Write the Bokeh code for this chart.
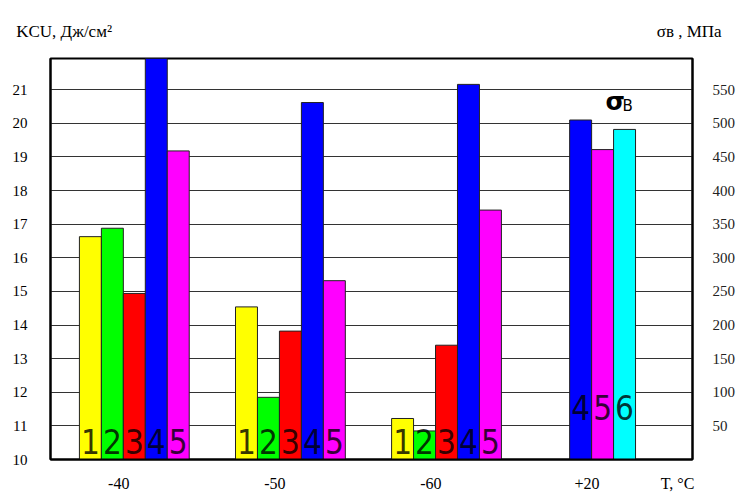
from bokeh.plotting import figure
from bokeh.models import Range1d, LinearAxis, FixedTicker, Label
from bokeh.core.properties import value
from bokeh.embed import file_html
from bokeh.resources import INLINE

# ---- data ----
categories = ["-40", "-50", "-60", "+20"]
cat_pos = [1, 2, 3, 4]
kcu_1 = [16.63, 14.54, 11.22]
kcu_2 = [16.88, 11.85, 10.85]
kcu_3 = [14.94, 13.82, 13.40]
kcu_4 = [22.4, 20.62, 21.16]
kcu_5 = [19.18, 15.32, 17.42]
sigma_20 = [505, 461, 491]          # MPa at +20 C, bars 4,5,6
sigma_labels = ["4", "5", "6"]
left_ticks = [10, 11, 12, 13, 14, 15, 16, 17, 18, 19, 20, 21]
right_ticks = [50, 100, 150, 200, 250, 300, 350, 400, 450, 500, 550]
x_title = "T, °C"
left_title = "KCU, Дж/см²"
right_title = "σв , МПа"

colors = ["#FFFF00", "#00FF00", "#FF0000", "#0000FF", "#FF00FF", "#00FFFF"]

Y0, Y1 = 10, 21.93
p = figure(width=738, height=502, output_backend="svg", toolbar_location=None,
           x_range=Range1d(0.463, 4.576), y_range=Range1d(Y0, Y1),
           min_border_left=50, min_border_right=45, min_border_top=58, min_border_bottom=43)
p.extra_y_ranges = {"sigma": Range1d((Y0 - 10) * 50, (Y1 - 10) * 50)}

digit_font = value("DejaVu Sans Condensed, Roboto")
bw = 0.1407
series = [kcu_1, kcu_2, kcu_3, kcu_4, kcu_5]
for i, vals in enumerate(series):
    xs = [cat_pos[j] + (i - 2) * bw for j in range(len(vals))]
    p.vbar(x=xs, top=vals, bottom=Y0, width=bw, fill_color=colors[i],
           line_color="#222222", line_width=1)
    p.text(x=xs, y=[Y0] * len(vals), text=[str(i + 1)] * len(vals),
           text_font=digit_font, text_font_size="33px",
           text_color="black", text_alpha=0.8, text_align="center",
           text_baseline="bottom", y_offset=-6)

xs20 = [cat_pos[3] + (k - 1) * bw for k in range(3)]
p.vbar(x=xs20, top=sigma_20, bottom=0, width=bw, fill_color=colors[3:6],
       line_color="#222222", line_width=1, y_range_name="sigma")
p.text(x=xs20, y=[50] * 3, text=sigma_labels,
       text_font=digit_font, text_font_size="33px",
       text_color="black", text_alpha=0.8, text_align="center",
       text_baseline="bottom", y_offset=-6, y_range_name="sigma")

# grid
p.xgrid.visible = False
p.ygrid.ticker = FixedTicker(ticks=left_ticks)
p.ygrid.grid_line_color = "#333333"
p.ygrid.grid_line_width = 1
p.ygrid.level = "underlay"

p.outline_line_color = "black"
p.outline_line_width = 2
p.background_fill_color = "white"
p.border_fill_color = "white"

serif = "Liberation Serif"


def style_axis(ax, standoff, size):
    ax.major_tick_line_color = None
    ax.minor_tick_line_color = None
    ax.major_tick_out = 0
    ax.major_tick_in = 0
    ax.minor_tick_out = 0
    ax.minor_tick_in = 0
    ax.axis_line_color = "black"
    ax.axis_line_width = 2
    ax.major_label_standoff = standoff
    ax.major_label_text_font = serif
    ax.major_label_text_font_size = size
    ax.major_label_text_color = "black"


# left axis
ya = p.yaxis[0]
ya.ticker = FixedTicker(ticks=left_ticks)
style_axis(ya, 23, "15px")

# right axis
ra = LinearAxis(y_range_name="sigma", ticker=FixedTicker(ticks=right_ticks))
style_axis(ra, 20, "15px")
ra.major_label_text_color = "#222222"
p.add_layout(ra, "right")

# bottom axis: category labels plus the axis title as the last label
xa = p.xaxis[0]
xt = [c - 0.1 for c in cat_pos] + [4.48]
xa.ticker = FixedTicker(ticks=xt)
xa.major_label_overrides = {t: lab for t, lab in zip(xt, categories + [x_title])}
style_axis(xa, 15, "16px")

# top axis carrying the two axis titles
ta = LinearAxis(ticker=FixedTicker(ticks=[0.55, 4.555]))
ta.major_label_overrides = {0.55: left_title, 4.555: right_title}
style_axis(ta, 18, "17px")
ta.axis_line_color = None
p.add_layout(ta, "above")

# σв mark inside the plot (screen units relative to frame)
p.add_layout(Label(x=555, y=344, x_units="screen", y_units="screen",
                   text="σ", text_font="DejaVu Sans", text_font_style="bold",
                   text_font_size="25px", text_color="black"))
p.add_layout(Label(x=572, y=345, x_units="screen", y_units="screen",
                   text="В", text_font="DejaVu Sans",
                   text_font_size="15px", text_color="black"))

open("out.html", "w").write(file_html(p, INLINE))
